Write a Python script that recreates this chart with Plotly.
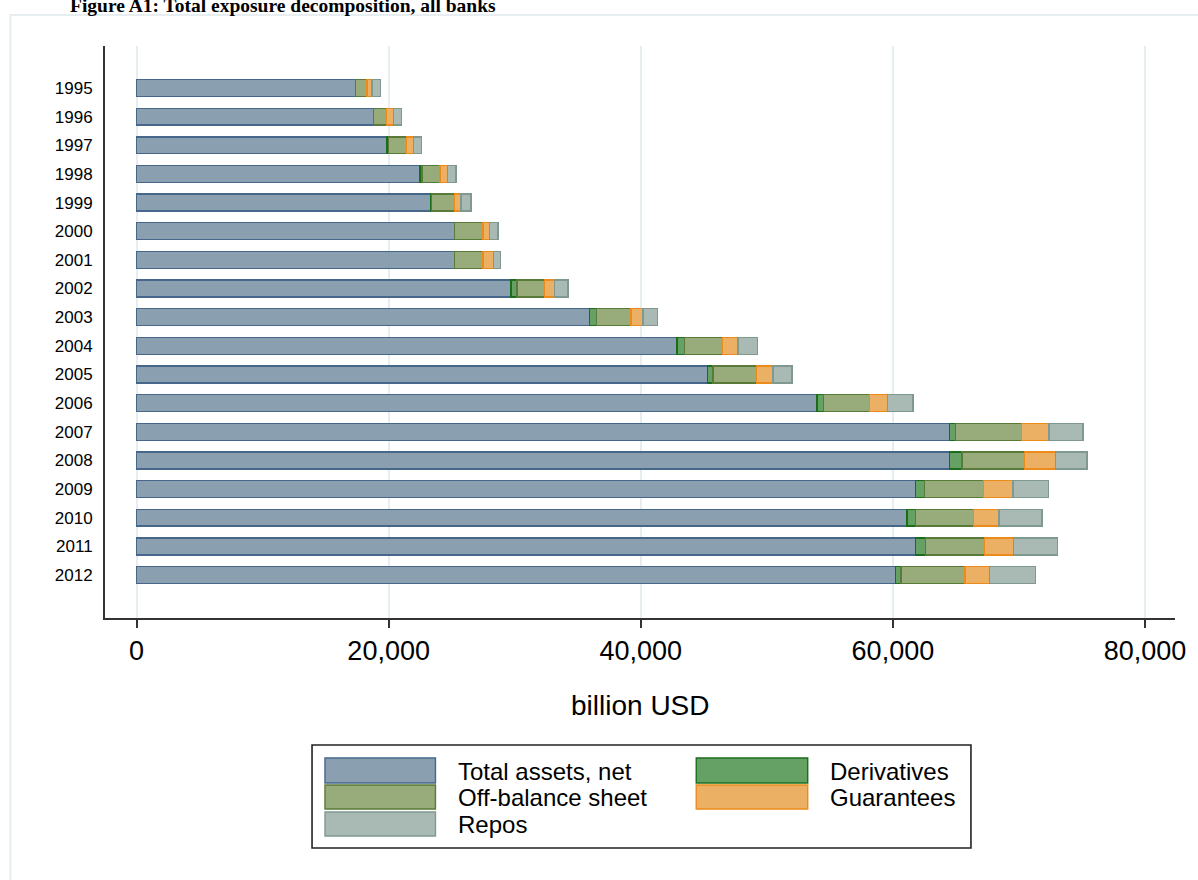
import plotly.graph_objects as go

years = [str(y) for y in range(1995, 2013)]
total_assets = [17370, 18820, 19870, 22500, 23370, 25210, 25210, 29700, 35940,
                42870, 45310, 53990, 64510, 64510, 61800, 61130, 61800, 60190]
derivatives = [0, 0, 130, 130, 50, 30, 30, 480, 560,
               580, 430, 500, 470, 970, 690, 660, 780, 440]
off_balance = [920, 1000, 1400, 1450, 1790, 2240, 2240, 2180, 2710,
               3050, 3420, 3660, 5200, 4950, 4700, 4620, 4700, 5090]
guarantees = [400, 580, 580, 600, 530, 530, 840, 800, 960,
              1200, 1330, 1440, 2190, 2490, 2350, 2020, 2270, 1960]
repos = [660, 610, 610, 660, 790, 660, 550, 1060, 1170,
         1540, 1510, 1990, 2710, 2490, 2820, 3400, 3510, 3650]

series = [
    ("Total assets, net", total_assets, "#8aa0b0", "#46678a"),
    ("Derivatives", derivatives, "#65a065", "#1a6e1a"),
    ("Off-balance sheet", off_balance, "#98ac7b", "#5a7a3a"),
    ("Guarantees", guarantees, "#ecb065", "#ec8a1a"),
    ("Repos", repos, "#a8bab3", "#80998f"),
]

W, H = 1198, 880
L, R, T, B = 105, 18, 46, 262
PW, PH = W - L - R, H - T - B


def px(x):
    return (x - L) / PW


def py(y):
    return (H - B - y) / PH


fig = go.Figure()
for name, vals, fill, line in series:
    fig.add_trace(go.Bar(
        y=years, x=vals, name=name, orientation="h",
        marker=dict(color=fill, line=dict(color=line, width=1.4)),
    ))

FONT = "Liberation Sans, Arial, sans-serif"

fig.update_layout(
    width=W, height=H,
    margin=dict(l=L, r=R, t=T, b=B),
    plot_bgcolor="white", paper_bgcolor="white",
    barmode="stack", bargap=0.41, showlegend=False,
    font=dict(family=FONT, color="black"),
)

fig.update_xaxes(
    range=[-2503, 82380],
    tickvals=[0, 20000, 40000, 60000, 80000],
    tickformat=",",
    showgrid=True, gridcolor="#e6eef1", gridwidth=2,
    zeroline=False,
    showline=True, linecolor="#333333", linewidth=2,
    ticks="outside", ticklen=8, tickwidth=1.5, tickcolor="#333333",
    tickfont=dict(size=27, family=FONT, color="black"),
)

fig.update_yaxes(
    type="category",
    range=[18.5, -1.466],
    showgrid=False, zeroline=False,
    showline=True, linecolor="#333333", linewidth=2,
    ticks="outside", ticklen=7, tickcolor="rgba(0,0,0,0)",
    tickfont=dict(size=17, family=FONT, color="black"),
)

shapes = []
# outer frame
shapes.append(dict(type="rect", xref="paper", yref="paper",
                   x0=px(10), x1=px(1230), y0=py(15), y1=py(920),
                   line=dict(color="#e6eef1", width=2), fillcolor="rgba(0,0,0,0)",
                   layer="below"))
# legend box
shapes.append(dict(type="rect", xref="paper", yref="paper",
                   x0=px(313), x1=px(975), y0=py(745), y1=py(848),
                   line=dict(color="#222222", width=1.6), fillcolor="white"))

legend_layout = [
    (0, 326, 437, 458, 758, 783, 771),
    (1, 699, 811, 831, 758, 783, 771),
    (2, 326, 437, 458, 785, 809, 797),
    (3, 699, 811, 831, 785, 809, 797),
    (4, 326, 437, 458, 812, 836, 824),
]
annotations = []
for idx, sx0, sx1, tx, sy0, sy1, ty in legend_layout:
    name, _, fill, line = series[idx]
    shapes.append(dict(type="rect", xref="paper", yref="paper",
                       x0=px(sx0), x1=px(sx1), y0=py(sy0), y1=py(sy1),
                       line=dict(color=line, width=1.4), fillcolor=fill))
    annotations.append(dict(xref="paper", yref="paper", x=px(tx), y=py(ty),
                            xanchor="left", yanchor="middle", showarrow=False,
                            text=name, font=dict(size=24, family=FONT, color="black")))

# axis title
annotations.append(dict(xref="paper", yref="paper", x=px(643), y=py(706),
                        xanchor="center", yanchor="middle", showarrow=False,
                        text="billion USD", font=dict(size=28, family=FONT, color="black")))

# figure title (partially cut at the top edge, as in the source)
annotations.append(dict(xref="paper", yref="paper", x=px(68), y=py(6),
                        xanchor="left", yanchor="middle", showarrow=False,
                        text="<b>Figure A1: Total exposure decomposition, all banks</b>",
                        font=dict(size=19.5, family="Liberation Serif, Times New Roman, serif",
                                  color="black")))

fig.update_layout(shapes=shapes, annotations=annotations)

fig.write_html("out.html", config={"displayModeBar": False},
               post_script="document.body.style.margin='0';")
